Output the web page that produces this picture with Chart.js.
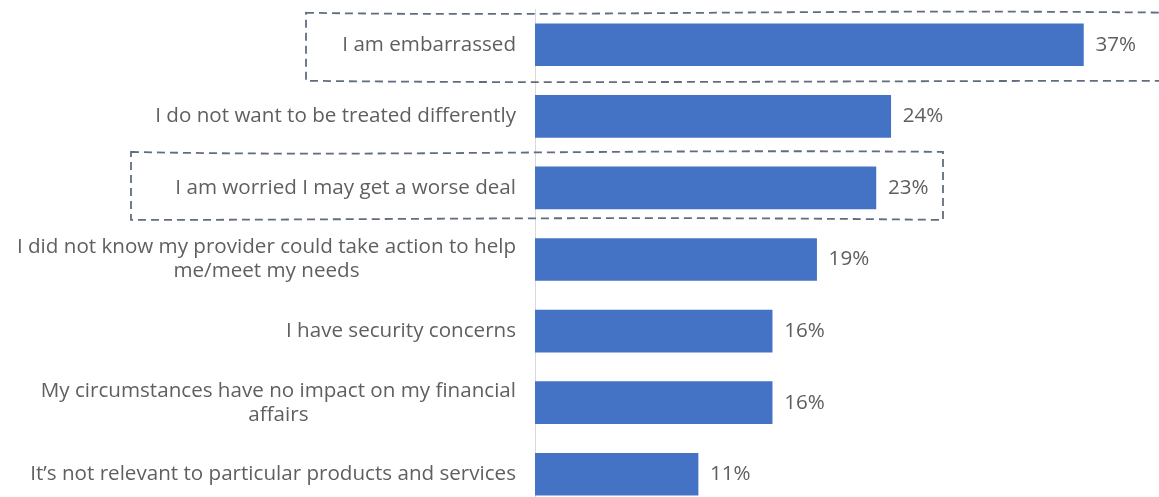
<!DOCTYPE html>
<html>
<head>
<meta charset="utf-8">
<script src="https://cdn.jsdelivr.net/npm/chart.js@4.4.1/dist/chart.umd.min.js"></script>
<style>
  html, body { margin: 0; padding: 0; background: #fff; overflow: hidden; }
  #wrap { width: 1159px; height: 510px; position: relative; }
</style>
</head>
<body>
<div id="wrap"><canvas id="reasonsChart"></canvas></div>
<script>
// reasons for not telling a provider about circumstances
const categories = [
  ["I am embarrassed"],
  ["I do not want to be treated differently"],
  ["I am worried I may get a worse deal"],
  ["I did not know my provider could take action to help", "me/meet my needs"],
  ["I have security concerns"],
  ["My circumstances have no impact on my financial", "affairs"],
  ["It’s not relevant to particular products and services"]
];
const shares = [37, 24, 23, 19, 16, 16, 11];
const valueLabels = ["37%", "24%", "23%", "19%", "16%", "16%", "11%"];

const FONT = "'Open Sans', sans-serif";
const TEXT = "#5f5f5f";

// category text drawn by hand so wrapped lines sit centred under each other
const categoryText = {
  id: "categoryText",
  afterDraw(chart) {
    const { ctx, scales: { y } } = chart;
    ctx.save();
    ctx.font = "20.6px " + FONT;
    ctx.fillStyle = TEXT;
    ctx.textBaseline = "middle";
    const right = y.left - 19;
    categories.forEach((lines, i) => {
      const cy = y.getPixelForValue(i);
      const widths = lines.map(l => ctx.measureText(l).width);
      const block = Math.max(...widths);
      const lh = 24;
      lines.forEach((l, j) => {
        const ly = cy + (j - (lines.length - 1) / 2) * lh;
        ctx.textAlign = "center";
        ctx.fillText(l, right - block / 2, ly);
      });
    });
    ctx.restore();
  }
};

// percentage at the end of every bar
const barValues = {
  id: "barValues",
  afterDatasetsDraw(chart) {
    const { ctx } = chart;
    const meta = chart.getDatasetMeta(0);
    ctx.save();
    ctx.font = "20.6px " + FONT;
    ctx.fillStyle = TEXT;
    ctx.textAlign = "left";
    ctx.textBaseline = "middle";
    meta.data.forEach((bar, i) => {
      ctx.fillText(valueLabels[i], bar.x + 12, bar.y);
    });
    ctx.restore();
  }
};

// hand-drawn dashed outline around two of the rows
function wobblyBox(ctx, x0, y0, x1, y1, dips) {
  ctx.beginPath();
  ctx.moveTo(x0, y0);
  ctx.bezierCurveTo(x0 + (x1 - x0) * 0.3, y0 + dips[0], x0 + (x1 - x0) * 0.6, y0 - dips[1], x1, y0);
  ctx.lineTo(x1, y1);
  ctx.bezierCurveTo(x0 + (x1 - x0) * 0.6, y1 - dips[2], x0 + (x1 - x0) * 0.3, y1 + dips[3], x0, y1);
  ctx.closePath();
  ctx.stroke();
}

const highlightBoxes = {
  id: "highlightBoxes",
  afterDraw(chart) {
    const { ctx, scales: { y } } = chart;
    ctx.save();
    ctx.strokeStyle = "rgba(68, 84, 106, 0.85)";
    ctx.lineWidth = 1.8;
    ctx.setLineDash([8, 5]);
    const c0 = y.getPixelForValue(0);
    wobblyBox(ctx, 306, c0 - 32, 1175, c0 + 36, [4, 4, 0, 3]);
    const c2 = y.getPixelForValue(2);
    wobblyBox(ctx, 131, c2 - 36, 943, c2 + 32, [5, 3, 4, 0]);
    ctx.restore();
  }
};

new Chart(document.getElementById("reasonsChart"), {
  type: "bar",
  data: {
    labels: categories,
    datasets: [{
      data: shares,
      backgroundColor: "#4472C4",
      borderWidth: 0,
      barThickness: 42
    }]
  },
  options: {
    indexAxis: "y",
    responsive: true,
    maintainAspectRatio: false,
    animation: false,
    layout: { padding: { left: 535, right: 0, top: 9, bottom: 0 } },
    plugins: {
      legend: { display: false },
      tooltip: { enabled: false }
    },
    scales: {
      x: {
        display: false,
        min: 0,
        max: 42.1
      },
      y: {
        ticks: { display: false },
        grid: { display: false, drawTicks: false },
        border: { display: true, color: "#d9d9d9", width: 1 }
      }
    }
  },
  plugins: [categoryText, barValues, highlightBoxes]
});
</script>
</body>
</html>
